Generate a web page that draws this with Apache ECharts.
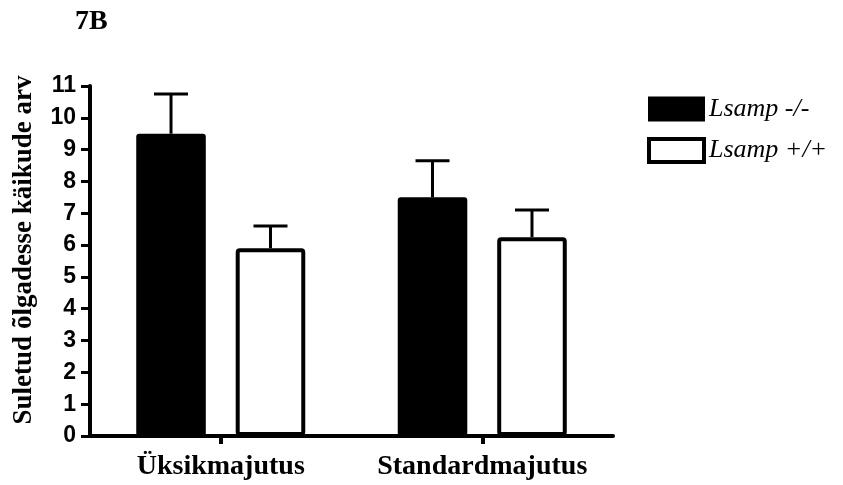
<!DOCTYPE html>
<html>
<head>
<meta charset="utf-8">
<script src="https://cdn.jsdelivr.net/npm/echarts@6/dist/echarts.min.js"></script>
<style>
  html, body { margin: 0; padding: 0; background: #fff; }
  #chart { width: 843px; height: 485px; }
</style>
</head>
<body>
<div id="chart"></div>
<script>
// Housing conditions (x categories)
const categories = ['Üksikmajutus', 'Standardmajutus'];
// Group names for the legend
const seriesNames = ['Lsamp -/-', 'Lsamp +/+'];
// Mean values per group
const knockoutMeans = [9.5, 7.5];
const wildtypeMeans = [5.9, 6.25];
// Upper error (SEM) per group
const knockoutErr = [1.25, 1.15];
const wildtypeErr = [0.7, 0.85];
// Y axis ticks
const yMin = 0, yMax = 11, yStep = 1;

const serif = '"Liberation Serif", "Times New Roman", serif';
const sans = '"Liberation Sans", Arial, sans-serif';

const BAR_FRAC = 0.266;   // bar width as share of a category band
const GAP_FRAC = 0.43;    // gap between bars as share of bar width

function errorSeries(means, errs, side) {
  return {
    type: 'custom',
    z: 1,
    silent: true,
    data: means.map((m, i) => [i, m, m + errs[i]]),
    renderItem: function (params, api) {
      const band = api.size([1, 0])[0];
      const bw = band * BAR_FRAC;
      const off = side * (bw + bw * GAP_FRAC) / 2;
      const base = api.coord([api.value(0), api.value(1)]);
      const top = api.coord([api.value(0), api.value(2)]);
      const x = base[0] + off;
      const cap = 17;
      const style = { stroke: '#000', lineWidth: 3 };
      return {
        type: 'group',
        children: [
          { type: 'line', shape: { x1: x, y1: base[1], x2: x, y2: top[1] }, style: style },
          { type: 'line', shape: { x1: x - cap, y1: top[1], x2: x + cap, y2: top[1] }, style: style }
        ]
      };
    }
  };
}

const chart = echarts.init(document.getElementById('chart'), null, { renderer: 'canvas' });
chart.setOption({
  animation: false,
  backgroundColor: '#fff',
  title: {
    text: '7B',
    left: 70, top: 3,
    textStyle: { fontFamily: serif, fontWeight: 'bold', fontSize: 28, color: '#000' }
  },
  legend: {
    orient: 'vertical',
    left: 642, top: 91,
    itemWidth: 55, itemHeight: 23, itemGap: 15,
    data: [
      { name: seriesNames[0], icon: 'rect', itemStyle: { color: '#000', borderColor: '#000', borderWidth: 2 } },
      { name: seriesNames[1], icon: 'rect', itemStyle: { color: '#fff', borderColor: '#000', borderWidth: 4 } }
    ],
    textStyle: { fontFamily: serif, fontStyle: 'italic', fontSize: 26, color: '#000', padding: [0, 0, 0, 0] }
  },
  grid: { left: 90, right: 230, top: 86, bottom: 49, outerBoundsMode: 'none', containLabel: false },
  xAxis: {
    type: 'category',
    data: categories,
    axisLine: { lineStyle: { color: '#000', width: 4 } },
    axisTick: { show: true, alignWithLabel: true, length: 8, lineStyle: { color: '#000', width: 4 } },
    axisLabel: { interval: 0, hideOverlap: false, fontFamily: serif, fontWeight: 'bold', fontSize: 28, color: '#000', margin: 17 }
  },
  yAxis: {
    type: 'value',
    min: yMin, max: yMax, interval: yStep,
    name: 'Suletud õlgadesse käikude arv',
    nameLocation: 'middle',
    nameGap: 52,
    nameTextStyle: { fontFamily: serif, fontWeight: 'bold', fontSize: 27, color: '#000', padding: [0, 0, 0, 22] },
    splitLine: { show: false },
    axisLine: { show: true, lineStyle: { color: '#000', width: 4 } },
    axisTick: { show: true, length: 9, lineStyle: { color: '#000', width: 3 } },
    axisLabel: { fontFamily: sans, fontWeight: 'bold', fontSize: 23, color: '#000', margin: 14 }
  },
  series: [
    errorSeries(knockoutMeans, knockoutErr, -1),
    errorSeries(wildtypeMeans, wildtypeErr, 1),
    {
      name: seriesNames[0],
      type: 'bar',
      z: 2,
      data: knockoutMeans,
      barWidth: (BAR_FRAC * 100) + '%',
      barGap: (GAP_FRAC * 100) + '%',
      itemStyle: { color: '#000', borderColor: '#000', borderWidth: 0, borderRadius: 3 }
    },
    {
      name: seriesNames[1],
      type: 'bar',
      z: 2,
      data: wildtypeMeans,
      barWidth: (BAR_FRAC * 100) + '%',
      itemStyle: { color: '#fff', borderColor: '#000', borderWidth: 4, borderRadius: 2 }
    }
  ]
});
</script>
</body>
</html>
